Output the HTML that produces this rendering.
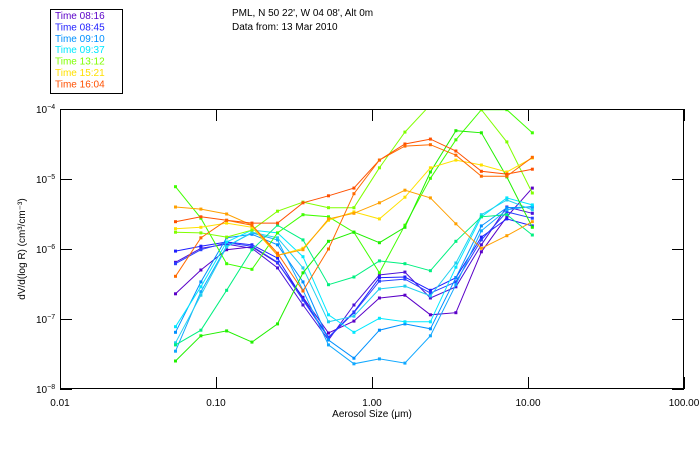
<!DOCTYPE html>
<html><head><meta charset="utf-8"><style>
html,body{margin:0;padding:0;background:#fff;}
svg{display:block;font-family:"Liberation Sans",sans-serif;}
</style></head><body>
<svg id="chart" width="700" height="450" viewBox="0 0 700 450" xmlns="http://www.w3.org/2000/svg">
<text x="232" y="16" font-size="10">PML, N 50 22', W 04 08', Alt 0m</text>
<text x="232" y="30" font-size="10">Data from: 13 Mar 2010</text>
<g id="legend">
<rect x="50.5" y="9.5" width="72" height="84" fill="#fff" stroke="#000"/>
</g>
<g id="plot"></g>
<text x="372" y="417" font-size="10" text-anchor="middle">Aerosol Size (μm)</text>
<text transform="translate(25,249) rotate(-90)" font-size="10" text-anchor="middle">dV/d(log R)  (cm³/cm⁻³)</text>
</svg>
<script>
const sizes = [0.055,0.080,0.117,0.170,0.248,0.361,0.526,0.766,1.116,1.626,2.368,3.449,5.024,7.318,10.66];
const seriesNames = ["08:16","08:16","08:45","08:45","09:10","09:10","09:37","09:37","13:12","13:12","13:12","13:12","15:21","15:21","16:04","16:04"];
const seriesColors = ["#5a00c8","#4a10d8","#1e1eff","#2a40ff","#0090ff","#10a8ff","#00e8ff","#20d0f0","#40ff00","#80ff00","#20f000","#00f080","#ffe000","#ffa000","#ff5000","#ff6a00"];
const p1 = [-6.64,-6.30,-6.01,-5.97,-6.20,-6.69,-7.20,-7.03,-6.70,-6.66,-6.94,-6.91,-6.04,-5.54,-5.13];
const p2 = [-6.19,-5.99,-5.93,-5.99,-6.27,-6.80,-7.30,-6.80,-6.37,-6.33,-6.70,-6.54,-5.94,-5.40,-5.49];
const b1 = [-6.03,-5.96,-5.90,-5.94,-6.13,-6.71,-7.26,-6.90,-6.41,-6.40,-6.59,-6.41,-5.83,-5.57,-5.67];
const b2 = [-6.21,-6.01,-5.91,-5.96,-6.19,-6.73,-7.27,-6.91,-6.46,-6.43,-6.63,-6.47,-5.87,-5.47,-5.56];
const lb1 = [-7.19,-6.47,-5.84,-5.79,-5.94,-6.47,-7.30,-7.56,-7.16,-7.07,-7.14,-6.41,-5.67,-5.41,-5.40];
const lb2 = [-7.46,-6.61,-5.96,-5.77,-5.87,-6.59,-7.37,-7.64,-7.57,-7.63,-7.24,-6.51,-5.74,-5.44,-5.39];
const c1 = [-7.11,-6.54,-5.90,-5.73,-5.77,-6.11,-6.94,-7.19,-6.99,-7.04,-7.04,-6.26,-5.54,-5.27,-5.37];
const c2 = [-7.34,-6.66,-5.97,-5.76,-5.84,-6.27,-7.04,-6.96,-6.57,-6.53,-6.67,-6.20,-5.51,-5.30,-5.44];
const g1 = [-5.11,-5.56,-6.21,-6.29,-5.77,-5.51,-5.54,-5.76,-6.34,-5.66,-4.99,-4.44,-4.01,-4.01,-4.34];
const g2 = [-5.76,-5.77,-5.83,-5.73,-5.46,-5.33,-5.41,-5.41,-4.84,-4.33,-3.94,-3.80,-4.01,-4.47,-5.20];
const g3 = [-7.60,-7.24,-7.17,-7.33,-7.07,-6.34,-5.89,-5.76,-5.91,-5.69,-4.90,-4.31,-4.34,-4.97,-5.69];
const g4 = [-7.37,-7.16,-6.59,-6.01,-5.66,-5.87,-6.51,-6.40,-6.17,-6.21,-6.31,-5.89,-5.54,-5.51,-5.80];
const y1 = [-5.71,-5.69,-5.63,-5.69,-6.09,-5.99,-5.59,-5.47,-5.57,-5.26,-4.84,-4.73,-4.80,-4.90,-4.70];
const y2 = [-5.40,-5.43,-5.50,-5.66,-6.09,-6.01,-5.57,-5.49,-5.34,-5.16,-5.27,-5.64,-5.99,-5.81,-5.61];
const o1 = [-5.61,-5.54,-5.59,-5.63,-5.63,-5.34,-5.24,-5.13,-4.73,-4.50,-4.43,-4.60,-4.89,-4.93,-4.86];
const o2 = [-6.39,-5.84,-5.59,-5.66,-6.06,-6.60,-6.00,-5.21,-4.73,-4.53,-4.51,-4.66,-4.96,-4.96,-4.69];
const seriesValues = [p1,p2,b1,b2,lb1,lb2,c1,c2,g1,g2,g3,g4,y1,y2,o1,o2];
const legendLabels = ["Time 08:16","Time 08:45","Time 09:10","Time 09:37","Time 13:12","Time 15:21","Time 16:04"];
const legendColors = ["#5a00c8","#1e1eff","#0090ff","#00e8ff","#80ff00","#ffe000","#ff5000"];
const xTickLabels = ["0.01","0.10","1.00","10.00","100.00"];
const xTickValues = [0.01,0.1,1,10,100];
const yTickExps = [-4,-5,-6,-7,-8];

const NS = "http://www.w3.org/2000/svg";
const L = 60, R = 684, T = 109, B = 389;
const xs = v => L + (Math.log10(v) + 2) / 4 * (R - L);
const ys = e => T + (-4 - e) / 4 * (B - T);
function mk(tag, attrs, parent){ const el = document.createElementNS(NS, tag); for (const k in attrs) el.setAttribute(k, attrs[k]); parent.appendChild(el); return el; }
const svg = document.getElementById('chart');
const plot = document.getElementById('plot');
const legend = document.getElementById('legend');

legendLabels.forEach((t,i)=>{
  const el = mk('text',{x:55,y:19+i*11.4,'font-size':10,fill:legendColors[i]},legend);
  el.textContent = t;
  
  
});

const defs = mk('defs',{},svg);
const cp = mk('clipPath',{id:'clip'},defs);
mk('rect',{x:L,y:T,width:R-L,height:B-T},cp);
const lines = mk('g',{'clip-path':'url(#clip)'},plot);
seriesValues.forEach((vals,si)=>{
  const g = mk('g',{},lines);
  
  
  const pts = vals.map((v,i)=>xs(sizes[i]).toFixed(1)+','+ys(v).toFixed(1)).join(' ');
  const pl = mk('polyline',{points:pts,fill:'none',stroke:seriesColors[si],'stroke-width':1},g);
  
  
  vals.forEach((v,i)=>{
    const m = mk('rect',{x:xs(sizes[i])-1.5,y:ys(v)-1.5,width:3,height:3,fill:seriesColors[si]},g);
    
    
  });
});

const frame = mk('rect',{x:L+0.5,y:T+0.5,width:R-L-1,height:B-T-1,fill:'none',stroke:'#000','stroke-width':1},plot);



xTickValues.forEach((v,i)=>{
  const x = Math.round(xs(v))+0.5;
  mk('line',{x1:x,y1:B,x2:x,y2:B-12,stroke:'#000'},plot);
  mk('line',{x1:x,y1:T,x2:x,y2:T+12,stroke:'#000'},plot);
  const t = mk('text',{x:xs(v),y:406,'font-size':10,'text-anchor':'middle'},svg);
  t.textContent = xTickLabels[i];
  
  
});
yTickExps.forEach(e=>{
  const y = Math.round(ys(e))+0.5;
  mk('line',{x1:L,y1:y,x2:L+12,y2:y,stroke:'#000'},plot);
  mk('line',{x1:R,y1:y,x2:R-12,y2:y,stroke:'#000'},plot);
  const t = mk('text',{x:36,y:ys(e)+4,'font-size':10},svg);
  
  
  t.textContent = '10';
  const s = mk('tspan',{dy:-4,'font-size':7},t);
  s.textContent = String(e).replace('-','−');
});
</script>
</body></html>
